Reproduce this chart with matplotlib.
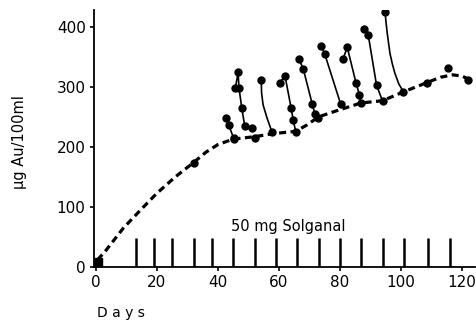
import matplotlib
matplotlib.use("Agg")
import matplotlib.pyplot as plt

# ---- data ----
base_days = [0.5, 3, 9, 15, 20, 26, 32, 36, 40, 45, 52, 58, 65.5, 69, 73, 77, 80, 86.8, 94, 101, 108.5, 113, 117, 120, 123]
base_vals = [12, 26, 65, 97, 123, 150, 174, 191, 204, 213, 217, 222, 226, 236, 250, 257, 262, 273, 277, 292, 307, 316, 320, 318, 311]

base_dot_days = [32, 45.2, 52, 108.5, 115.3, 122]
base_dot_vals = [174, 213, 215, 307, 331, 312]

start_day = [0.8]
start_val = [9]

# decay curves after injections (line path) and measured dots
seg_a_days = [42.6, 43.5, 45.1]
seg_a_vals = [248, 237, 215]
seg_b_days = [45.7, 46.6, 46.9, 47.8, 48.8, 51.0]
seg_b_vals = [298, 324, 298, 265, 234, 231]
seg_c_days = [54.2, 54.3, 54.8, 56.1, 57.7]
seg_c_vals = [312, 290, 270, 248, 225]
seg_d_days = [60.3, 62.0, 64.0, 64.7, 65.5]
seg_d_vals = [307, 318, 264.5, 244, 225.5]
seg_e_days = [66.6, 68.0, 70.9, 71.8, 72.7]
seg_e_vals = [346, 329.5, 271.7, 255, 248]
seg_f_days = [73.9, 75.0, 80.2]
seg_f_vals = [368, 355, 272]
seg_g_days = [81.0, 82.4, 85.3, 86.4, 86.8]
seg_g_vals = [346, 366, 306, 287, 273]
seg_h_days = [87.9, 89.3, 92.0, 94.0]
seg_h_vals = [397, 386, 303, 276]
seg_i_days = [94.8, 95.1, 95.5, 96.4, 97.2, 98.0, 99.3, 100.8]
seg_i_vals = [425.5, 408, 390, 356, 338, 323, 305, 292]
seg_i_dot_days = [94.8, 100.8]
seg_i_dot_vals = [425.5, 292]
seg_c_dot_days = [54.2, 57.7]
seg_c_dot_vals = [312, 225]

dose_days = [13, 19, 25, 32, 38, 45, 52, 59, 66, 73, 80, 87, 94, 101, 109, 116]
dose_height = 48

x_ticks = [0, 20, 40, 60, 80, 100, 120]
x_tick_labels = ["0", "20", "40", "60", "80", "100", "120"]
y_ticks = [0, 100, 200, 300, 400]
y_tick_labels = ["0", "100", "200", "300", "400"]

# ---- figure ----
fig = plt.figure(figsize=(4.76, 3.23), dpi=100)
ax = fig.add_axes([94/476, (323-267)/323, (475-94)/476, (267-10)/323])

ax.plot(base_days, base_vals, color="black", lw=2.3, linestyle=(0, (2.2, 1.4)),
        solid_capstyle="butt", dash_capstyle="butt", zorder=2)
ax.plot(base_dot_days, base_dot_vals, "o", color="black", ms=5, zorder=3)
ax.plot(start_day, start_val, "s", color="black", ms=6, zorder=3)

segs = [(seg_a_days, seg_a_vals, True), (seg_b_days, seg_b_vals, True),
        (seg_c_days, seg_c_vals, False), (seg_d_days, seg_d_vals, True),
        (seg_e_days, seg_e_vals, True), (seg_f_days, seg_f_vals, True),
        (seg_g_days, seg_g_vals, True), (seg_h_days, seg_h_vals, True),
        (seg_i_days, seg_i_vals, False)]
for d, v, dots in segs:
    ax.plot(d, v, color="black", lw=1.2, zorder=2, solid_joinstyle="round")
    if dots:
        ax.plot(d, v, "o", color="black", ms=5, zorder=3)
ax.plot(seg_c_dot_days, seg_c_dot_vals, "o", color="black", ms=5, zorder=3)
ax.plot(seg_i_dot_days, seg_i_dot_vals, "o", color="black", ms=5, zorder=3)

ax.vlines(dose_days, 0, dose_height, color="black", lw=1.8)
ax.text(63, 68, "50 mg Solganal", ha="center", va="center", fontsize=10.5)

ax.set_xlim(-0.66, 124.3)
ax.set_ylim(0, 428)
for s in ["top", "right"]:
    ax.spines[s].set_visible(False)
for s in ["left", "bottom"]:
    ax.spines[s].set_linewidth(1.3)
ax.set_xticks(x_ticks, x_tick_labels)
ax.set_yticks(y_ticks, y_tick_labels)
ax.tick_params(direction="out", length=3, width=1.2, labelsize=11, pad=3)

fig.text(97/476, 1 - 313/323, "D a y s", ha="left", va="center", fontsize=10)
fig.text(20/476, 1 - 142/323, "μg Au/100ml", ha="center", va="center",
         rotation=90, fontsize=10.5)

fig.savefig("out.png", dpi=100)
